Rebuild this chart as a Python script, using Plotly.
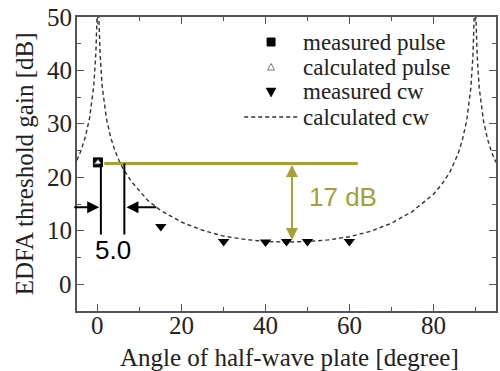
import plotly.graph_objects as go

# Calculated cw threshold gain vs. half-wave plate angle
calc_cw_angle = [-5, -4, -3, -2, -1, -0.5, -0.25, 0, 0.25, 0.5, 1, 2, 3, 4, 5, 6, 8, 10, 12,
                 15, 20, 25, 30, 35, 40, 45, 50, 55, 60, 65, 70, 75, 80, 82, 84, 86, 87, 88,
                 89, 89.5, 89.75, 90, 90.25, 90.5, 91, 92, 93, 94, 95]
calc_cw_gain = [23.2, 25.1, 27.6, 31.1, 37.1, 43.2, 49.2, 55, 49.2, 43.2, 37.1, 31.1, 27.6, 25.1,
                23.2, 21.6, 19.2, 17.3, 15.6, 13.8, 11.6, 10.1, 9.0, 8.4, 8.0, 7.9, 8.0, 8.3,
                8.9, 9.9, 11.4, 13.6, 16.8, 18.6, 21.0, 24.5, 27.1, 30.6, 36.7, 42.8, 48.9, 55,
                48.9, 42.8, 36.7, 30.6, 27.1, 24.6, 22.8]

# Measured cw thresholds
meas_cw_angle = [15, 30, 40, 45, 50, 60]
meas_cw_gain = [10.8, 8.0, 7.9, 8.0, 8.0, 8.0]

# Pulse thresholds
meas_pulse_angle = [0]
meas_pulse_gain = [22.8]
calc_pulse_angle = [0]
calc_pulse_gain = [22.8]

# Annotation levels
pulse_level = 22.6
cw_level = 8.3
width_lines = [0.7, 6.3]
width_label = "5.0"
gain_label = "17 dB"

# Tick labels
x_tick_vals = [0, 20, 40, 60, 80]
y_tick_vals = [0, 10, 20, 30, 40, 50]

legend_labels = ["measured pulse", "calculated pulse", "measured cw", "calculated cw"]
x_title = "Angle of half-wave plate [degree]"
y_title = "EDFA threshold gain [dB]"

OLIVE = "rgb(165,160,55)"
SERIF = "Liberation Serif"
AXIS = "#555"
TEXT = "#222"

# Plot-area geometry (pixels) used to place text in paper units
W, H = 500, 371
ML, MR, MT, MB = 77, 2, 17, 60
PW, PH = W - ML - MR, H - MT - MB


def px(xp):
    return (xp - ML) / PW


def py(yp):
    return (H - MB - yp) / PH


fig = go.Figure()

fig.add_trace(go.Scatter(
    x=calc_cw_angle, y=calc_cw_gain, mode="lines", name="calculated cw",
    line=dict(color="#333", width=1.4, dash="4px,3px"),
))
fig.add_trace(go.Scatter(
    x=meas_pulse_angle, y=meas_pulse_gain, mode="markers", name="measured pulse",
    marker=dict(symbol="square", size=9, color="black",
                line=dict(color="black", width=1)),
))
fig.add_trace(go.Scatter(
    x=calc_pulse_angle, y=calc_pulse_gain, mode="markers", name="calculated pulse",
    marker=dict(symbol="triangle-up", size=6, color="white",
                line=dict(color="#777", width=1)),
))
fig.add_trace(go.Scatter(
    x=meas_cw_angle, y=meas_cw_gain, mode="markers", name="measured cw",
    marker=dict(symbol="triangle-down", size=10, color="black"),
))

# Pulse threshold level line
fig.add_shape(type="line", x0=1.5, x1=62, y0=pulse_level, y1=pulse_level,
              line=dict(color=OLIVE, width=3))

# Vertical markers bounding the acceptance width
for xv in width_lines:
    fig.add_shape(type="line", x0=xv, x1=xv, y0=9.3, y1=22.6,
                  line=dict(color="black", width=2))

# Horizontal arrows pointing at the width markers
fig.add_annotation(x=0.3, y=14.4, ax=-6.0, ay=14.4, axref="x", ayref="y",
                   showarrow=True, arrowhead=2, arrowsize=1.2, arrowwidth=2,
                   arrowcolor="black", text="")
fig.add_annotation(x=6.8, y=14.4, ax=14.3, ay=14.4, axref="x", ayref="y",
                   showarrow=True, arrowhead=2, arrowsize=1.2, arrowwidth=2,
                   arrowcolor="black", text="")
fig.add_annotation(x=3.6, y=6.4, text=width_label, showarrow=False,
                   font=dict(family="Liberation Sans", size=26, color="black"))

# 17 dB double-headed arrow
fig.add_annotation(x=46.3, y=cw_level, ax=46.3, ay=pulse_level, axref="x", ayref="y",
                   showarrow=True, arrowhead=2, startarrowhead=2, arrowside="end+start",
                   arrowsize=1.2, startarrowsize=1.2, arrowwidth=2, arrowcolor=OLIVE, text="")
fig.add_annotation(x=50.0, y=16.4, text=gain_label, showarrow=False, xanchor="left",
                   font=dict(family="Liberation Sans", size=26, color=OLIVE))

# Legend: labels and sample symbols
row_y = [42, 67, 92, 117]
for label, yrow in zip(legend_labels, row_y):
    fig.add_annotation(xref="paper", yref="paper", x=px(302), y=py(yrow),
                       xanchor="left", yanchor="middle", text=label, showarrow=False,
                       font=dict(family=SERIF, size=23, color=TEXT))
sx = 272
# filled square
fig.add_shape(type="rect", xref="paper", yref="paper",
              x0=px(sx - 4), x1=px(sx + 4), y0=py(row_y[0] + 4), y1=py(row_y[0] - 4),
              fillcolor="black", line=dict(color="black", width=1))
# open triangle (up)
y1 = row_y[1]
fig.add_shape(type="path", xref="paper", yref="paper",
              path=(f"M {px(sx - 3.5)},{py(y1 + 3)} L {px(sx + 3.5)},{py(y1 + 3)} "
                    f"L {px(sx)},{py(y1 - 3.5)} Z"),
              fillcolor="white", line=dict(color="#777", width=1))
# filled triangle (down)
y2 = row_y[2]
fig.add_shape(type="path", xref="paper", yref="paper",
              path=(f"M {px(sx - 5)},{py(y2 - 4)} L {px(sx + 5)},{py(y2 - 4)} "
                    f"L {px(sx)},{py(y2 + 5)} Z"),
              fillcolor="black", line=dict(color="black", width=0.5))
# dashed line
fig.add_shape(type="line", xref="paper", yref="paper",
              x0=px(245), x1=px(300), y0=py(row_y[3]), y1=py(row_y[3]),
              line=dict(color="#333", width=1.4, dash="4px,3px"))

# Tick labels placed close to the frame
for v in x_tick_vals:
    fig.add_annotation(x=v, xref="x", yref="paper", y=py(325), text=str(v),
                       showarrow=False, xanchor="center", yanchor="middle",
                       font=dict(family=SERIF, size=25, color=TEXT))
for v in y_tick_vals:
    fig.add_annotation(y=v, yref="y", xref="paper", x=px(74), text=str(v),
                       showarrow=False, xanchor="right", yanchor="middle",
                       font=dict(family=SERIF, size=25, color=TEXT))

# Axis titles
fig.add_annotation(xref="paper", yref="paper", x=px(291), y=py(357), text=x_title,
                   showarrow=False, xanchor="center", yanchor="middle",
                   font=dict(family=SERIF, size=25, color=TEXT))
fig.add_annotation(xref="paper", yref="paper", x=px(24), y=py(164), text=y_title,
                   showarrow=False, xanchor="center", yanchor="middle", textangle=-90,
                   font=dict(family=SERIF, size=25, color=TEXT))

axis_common = dict(
    showline=True, linecolor=AXIS, linewidth=1.5, mirror="ticks",
    ticks="inside", ticklen=7, tickwidth=1.3, tickcolor=AXIS,
    showgrid=False, zeroline=False, showticklabels=False,
)

fig.update_xaxes(
    range=[-5, 95], tickvals=x_tick_vals,
    minor=dict(ticks="inside", ticklen=4, dtick=10, tick0=0, tickcolor=AXIS),
    **axis_common,
)
fig.update_yaxes(
    range=[-5, 50], tickvals=y_tick_vals,
    minor=dict(ticks="inside", ticklen=4, dtick=5, tick0=0, tickcolor=AXIS),
    **axis_common,
)

fig.update_layout(
    width=W, height=H,
    margin=dict(l=ML, r=MR, t=MT, b=MB),
    paper_bgcolor="white", plot_bgcolor="white",
    showlegend=False,
)

fig.write_html("out.html")
